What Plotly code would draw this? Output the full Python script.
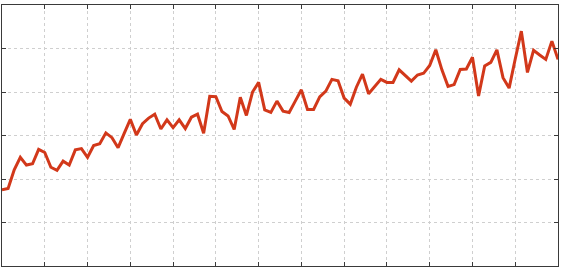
import plotly.graph_objects as go

# x positions (index of observation)
x_vals = list(range(92))

# series values (y axis 0..60, grid every 10)
y_vals = [
    17.5, 17.8, 22.1, 25.0, 23.2, 23.5, 26.8, 26.1, 22.7, 22.0,
    24.1, 23.2, 26.7, 27.0, 25.0, 27.7, 28.1, 30.6, 29.5, 27.2,
    30.5, 33.7, 30.1, 32.7, 34.0, 34.9, 31.5, 33.6, 31.8, 33.6,
    31.6, 34.2, 34.9, 30.5, 39.0, 38.9, 35.5, 34.5, 31.4, 38.8,
    34.6, 40.0, 42.2, 35.9, 35.3, 37.9, 35.6, 35.3, 37.9, 40.5,
    36.0, 36.0, 38.9, 40.2, 42.9, 42.6, 38.6, 37.2, 41.1, 44.1,
    39.6, 41.3, 42.9, 42.2, 42.2, 45.1, 43.7, 42.5, 43.9, 44.3,
    46.1, 49.7, 45.1, 41.3, 41.7, 45.2, 45.3, 48.0, 39.1, 46.0,
    46.8, 49.7, 43.3, 40.9, 47.6, 54.0, 44.5, 49.6, 48.5, 47.5,
    51.7, 47.5,
]

fig = go.Figure()
fig.add_trace(go.Scatter(
    x=x_vals, y=y_vals, mode="lines",
    line=dict(color="#D2381A", width=3),
    hoverinfo="skip",
))

axis_common = dict(
    showline=True, linecolor="#3a3a3a", linewidth=1.3,
    mirror="ticks", ticks="inside", ticklen=4, tickcolor="#3a3a3a",
    tickwidth=1, showticklabels=False,
    showgrid=True, gridcolor="#cfcfcf", griddash="dot", gridwidth=1,
    zeroline=False, fixedrange=True,
)

fig.update_layout(
    width=562, height=268,
    margin=dict(l=2, r=4, t=5, b=2),
    paper_bgcolor="white", plot_bgcolor="white",
    showlegend=False,
    xaxis=dict(range=[0, 91], tick0=0, dtick=7, **axis_common),
    yaxis=dict(range=[0, 60], tick0=0, dtick=10, **axis_common),
)

fig.write_html("out.html")
